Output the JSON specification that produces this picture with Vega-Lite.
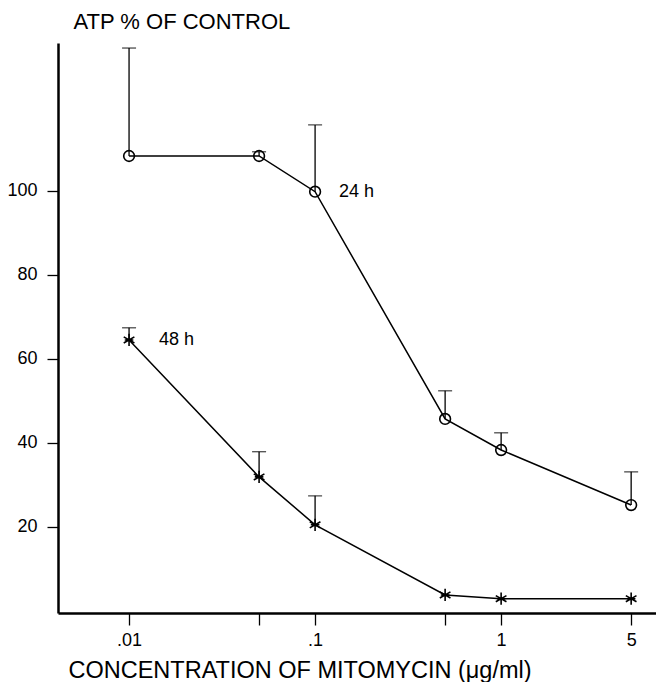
{
  "$schema": "https://vega.github.io/schema/vega-lite/v6.json",
  "width": 598,
  "height": 570,
  "autosize": "none",
  "padding": {"left": 58, "top": 43, "right": 0, "bottom": 69},
  "background": "white",
  "config": {
    "view": {"stroke": null},
    "font": "Liberation Sans",
    "axis": {
      "domainColor": "black",
      "domainWidth": 2.5,
      "tickColor": "black",
      "tickWidth": 1.3,
      "labelColor": "black",
      "titleColor": "black",
      "grid": false,
      "labelFont": "Liberation Sans",
      "titleFont": "Liberation Sans",
      "titleFontWeight": "normal"
    }
  },
  "data": {
    "values": [
      {"series": "24 h", "conc": 0.01, "atp": 108.3, "upper": 134.0, "label": null},
      {"series": "24 h", "conc": 0.05, "atp": 108.3, "upper": 109.3, "label": null},
      {"series": "24 h", "conc": 0.1, "atp": 99.8, "upper": 115.7, "label": "24 h"},
      {"series": "24 h", "conc": 0.5, "atp": 45.7, "upper": 52.4, "label": null},
      {"series": "24 h", "conc": 1, "atp": 38.3, "upper": 42.4, "label": null},
      {"series": "24 h", "conc": 5, "atp": 25.2, "upper": 33.1, "label": null},
      {"series": "48 h", "conc": 0.01, "atp": 64.5, "upper": 67.4, "label": "48 h"},
      {"series": "48 h", "conc": 0.05, "atp": 31.9, "upper": 37.9, "label": null},
      {"series": "48 h", "conc": 0.1, "atp": 20.5, "upper": 27.4, "label": null},
      {"series": "48 h", "conc": 0.5, "atp": 3.8, "upper": null, "label": null},
      {"series": "48 h", "conc": 1, "atp": 2.9, "upper": null, "label": null},
      {"series": "48 h", "conc": 5, "atp": 2.9, "upper": null, "label": null}
    ]
  },
  "encoding": {
    "x": {
      "field": "conc",
      "type": "quantitative",
      "scale": {"type": "log", "domain": [0.00415, 6.8], "nice": false},
      "axis": {
        "values": [0.01, 0.05, 0.1, 0.5, 1, 5],
        "labelExpr": "datum.value == 0.01 ? '.01' : datum.value == 0.1 ? '.1' : datum.value == 1 ? '1' : datum.value == 5 ? '5' : ''",
        "tickSize": 12,
        "labelPadding": 6,
        "labelFontSize": 18,
        "labelFlush": false,
        "labelOverlap": false,
        "title": "CONCENTRATION OF MITOMYCIN (μg/ml)",
        "titleFontSize": 23.5,
        "titleAlign": "left",
        "titleAnchor": "start",
        "titleX": 10,
        "titleY": 64,
        "titleBaseline": "alphabetic"
      }
    },
    "y": {
      "field": "atp",
      "type": "quantitative",
      "scale": {"domain": [-0.5, 135.2], "nice": false, "zero": false},
      "axis": {
        "values": [20, 40, 60, 80, 100],
        "tickSize": 11,
        "labelPadding": 10,
        "labelFontSize": 18,
        "title": "ATP % OF CONTROL",
        "titleFontSize": 22,
        "titleAngle": 0,
        "titleAlign": "left",
        "titleBaseline": "alphabetic",
        "titleX": 15,
        "titleY": -15
      }
    }
  },
  "layer": [
    {
      "transform": [{"filter": "datum.upper != null"}],
      "mark": {"type": "rule", "color": "black", "strokeWidth": 1.3},
      "encoding": {"y2": {"field": "upper"}}
    },
    {
      "transform": [{"filter": "datum.upper != null"}],
      "mark": {"type": "tick", "orient": "horizontal", "color": "black", "size": 14, "thickness": 1.3},
      "encoding": {"y": {"field": "upper", "type": "quantitative"}}
    },
    {
      "mark": {"type": "line", "color": "black", "strokeWidth": 1.5},
      "encoding": {"detail": {"field": "series"}}
    },
    {
      "mark": {"type": "point", "filled": false, "stroke": "black", "strokeWidth": 1.6, "opacity": 1},
      "encoding": {
        "shape": {
          "field": "series",
          "type": "nominal",
          "scale": {"domain": ["24 h", "48 h"], "range": ["circle", "M0,-1L0,1M-0.87,-0.5L0.87,0.5M-0.87,0.5L0.87,-0.5M-0.7,0L0.7,0"]},
          "legend": null
        },
        "size": {
          "field": "series",
          "type": "nominal",
          "scale": {"domain": ["24 h", "48 h"], "range": [115, 150]},
          "legend": null
        }
      }
    },
    {
      "transform": [{"filter": "datum.label == '24 h'"}],
      "mark": {"type": "text", "align": "left", "baseline": "middle", "dx": 24, "fontSize": 18, "color": "black"},
      "encoding": {"text": {"field": "label"}}
    },
    {
      "transform": [{"filter": "datum.label == '48 h'"}],
      "mark": {"type": "text", "align": "left", "baseline": "middle", "dx": 30, "fontSize": 18, "color": "black"},
      "encoding": {"text": {"field": "label"}}
    }
  ]
}
